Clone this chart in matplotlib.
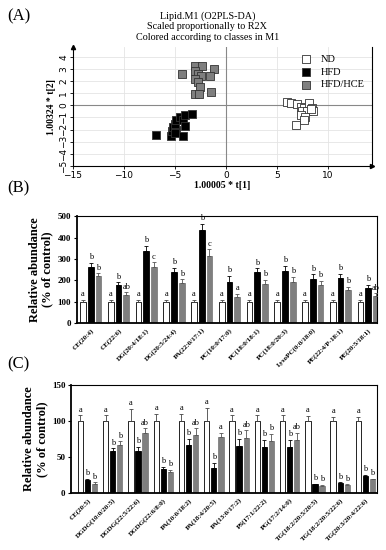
import matplotlib
matplotlib.use('Agg')
import matplotlib.pyplot as plt
import numpy as np

plt.rcParams['font.family'] = 'Liberation Serif'

# ---- panel A scores ----
nd_x = [6.0, 6.4, 6.9, 7.3, 7.6, 8.1, 8.4, 7.4, 7.9, 8.5, 7.3, 7.7, 7.6, 6.8, 8.3]
nd_y = [0.3, 0.2, 0.1, -0.1, -0.2, 0.2, -0.2, -0.5, -0.5, -0.5, -0.8, -1.0, -1.2, -1.6, -0.3]
hfd_x = [-6.9, -5.4, -5.3, -5.2, -4.9, -5.0, -4.9, -4.5, -4.2, -4.0, -3.3, -4.0, -4.2, -5.0]
hfd_y = [-2.4, -2.5, -2.1, -1.8, -2.0, -1.5, -1.2, -1.0, -1.2, -0.8, -0.7, -1.7, -2.5, -2.3]
hce_x = [-4.3, -3.0, -2.4, -1.2, -3.0, -2.8, -2.5, -1.6, -3.0, -2.8, -2.6, -1.5, -3.0, -2.7]
hce_y = [2.6, 3.2, 3.2, 3.0, 2.8, 2.6, 2.4, 2.4, 2.2, 1.9, 1.5, 1.1, 0.9, 0.9]

# ---- panel B ----
b_labels = ['CE(20:4)', 'CE(22:6)', 'DG(20:4/18:1)', 'DG(20:5/24:4)', 'PA(22:0/17:1)',
            'PC(10:0/17:0)', 'PC(18:0/18:1)', 'PC(18:0/20:3)', 'LysoPC(0:0/18:0)',
            'PE(22:4/P-18:1)', 'PE(20:5/18:1)']
b_nd = [100] * 11
b_nd_err = [8, 8, 8, 8, 8, 10, 8, 8, 8, 8, 8]
b_hfd = [263, 178, 337, 238, 435, 190, 238, 243, 207, 212, 165]
b_hfd_err = [20, 12, 25, 20, 28, 30, 18, 25, 20, 18, 15]
b_hce = [218, 133, 262, 185, 315, 120, 183, 190, 178, 155, 127]
b_hce_err = [15, 10, 22, 20, 30, 18, 18, 25, 20, 15, 12]
b_let_hce = ['b', 'ab', 'c', 'b', 'c', 'a', 'b', 'b', 'b', 'b', 'ab']

# ---- panel C ----
c_labels = ['CE(20:5)', 'DGDG(10:0/20:5)', 'DGDG(22:5/22:6)', 'DGDG(22:6/8:0)', 'PA(10:0/18:2)',
            'PA(18:4/20:5)', 'PA(13:0/17:2)', 'PS(17:1/22:2)', 'PG(17:2/14:0)',
            'TG(18:2/20:5/20:5)', 'TG(18:2/20:5/22:6)', 'TG(20:3/20:4/22:6)']
c_nd = [100] * 12
c_nd_err = [8, 8, 17, 10, 10, 18, 8, 8, 8, 7, 6, 6]
c_hfd = [18, 58, 59, 34, 67, 35, 65, 64, 64, 12, 14, 24]
c_hfd_err = [2, 4, 5, 2, 8, 7, 10, 10, 10, 1, 1, 1.5]
c_hce = [13, 66, 84, 29, 80, 78, 77, 72, 74, 10, 11, 19]
c_hce_err = [2, 6, 6, 3, 10, 6, 10, 10, 10, 1, 1, 1]
c_let_hce = ['b', 'b', 'ab', 'b', 'ab', 'a', 'ab', 'b', 'ab', 'b', 'b', 'b']

GRAY = '#7f7f7f'

fig = plt.figure(figsize=(3.86, 5.5), dpi=100)

# ---------------- (A) ----------------
axA = fig.add_axes([0.189, 0.698, 0.775, 0.2165])
axA.grid(True, color='#e4e4e4', lw=0.6)
axA.set_axisbelow(True)
axA.axhline(0, color='#888888', lw=0.8, zorder=1)
axA.axvline(0, color='#888888', lw=0.8, zorder=1)
kw = dict(marker='s', s=26, linewidths=0.6, edgecolors='#333333', zorder=3)
axA.scatter(nd_x, nd_y, facecolors='white', label='ND', **kw)
axA.scatter(hfd_x, hfd_y, facecolors='black', label='HFD', **kw)
axA.scatter(hce_x, hce_y, facecolors=GRAY, label='HFD/HCE', **kw)
axA.set_xlim(-15, 14.3)
axA.set_ylim(-5, 4.8)
axA.set_xticks([-15, -10, -5, 0, 5, 10])
axA.set_yticks(range(-5, 5))
for lab in axA.get_xticklabels() + axA.get_yticklabels():
    lab.set_family('DejaVu Sans')
    lab.set_fontsize(6.5)
for lab in axA.get_yticklabels():
    lab.set_rotation(90)
    lab.set_va('center')
axA.tick_params(length=2, width=0.6, pad=1.5)
axA.spines['top'].set_visible(False)
for s in ['left', 'bottom', 'right']:
    axA.spines[s].set_linewidth(0.8)
axA.set_xlabel('1.00005 * t[1]', fontsize=7, fontweight='bold', labelpad=1)
axA.set_ylabel('1.00324 * t[2]', fontsize=7, fontweight='bold', labelpad=2)
axA.legend(loc='upper right', frameon=False, fontsize=7.5, handletextpad=0.4,
           labelspacing=0.35, borderaxespad=0.3, markerscale=1.2)
axA.plot(1, 0, '>k', ms=3, transform=axA.transAxes, clip_on=False)
axA.plot(0, 1, '^k', ms=3, transform=axA.transAxes, clip_on=False)
fig.text(0.537, 0.98, 'Lipid.M1 (O2PLS-DA)\nScaled proportionally to R2X\nColored according to classes in M1',
         ha='center', va='top', fontsize=7.3, linespacing=1.25)
fig.text(0.018, 0.985, '(A)', fontsize=12, va='top')


def bar_panel(ax, labels, nd, nd_err, hfd, hfd_err, hce, hce_err, let_hce, ymax, step, xlim):
    x = np.arange(len(labels))
    off, w = 0.28, 0.21
    ax.bar(x - off, nd, w, color='white', edgecolor='black', lw=0.6, zorder=2)
    ax.bar(x, hfd, w, color='black', edgecolor='black', lw=0.6, zorder=2)
    ax.bar(x + off, hce, w, color=GRAY, edgecolor=GRAY, lw=0.6, zorder=2)
    for xs, v, e, c in [(x - off, nd, nd_err, '#444444'), (x, hfd, hfd_err, 'black'),
                        (x + off, hce, hce_err, '#555555')]:
        ax.errorbar(xs, v, yerr=[np.zeros(len(v)), e], fmt='none', ecolor=c,
                    elinewidth=0.6, capsize=1.3, capthick=0.6, zorder=3)
    pad = ymax * 0.015
    for i in range(len(labels)):
        ax.text(x[i] - off, nd[i] + nd_err[i] + pad, 'a', ha='center', va='bottom', fontsize=6)
        ax.text(x[i], hfd[i] + hfd_err[i] + pad, 'b', ha='center', va='bottom', fontsize=6)
        ax.text(x[i] + off, hce[i] + hce_err[i] + pad, let_hce[i], ha='center', va='bottom', fontsize=6)
    ax.set_xlim(*xlim)
    ax.set_ylim(0, ymax)
    ax.set_yticks(np.arange(0, ymax + 1, step))
    ax.set_xticks(x)
    ax.set_xticklabels(labels, rotation=45, ha='right', rotation_mode='anchor',
                       fontsize=5, fontweight='bold')
    for lab in ax.get_yticklabels():
        lab.set_fontweight('bold')
        lab.set_fontsize(6.5)
    ax.tick_params(axis='x', length=0, pad=3)
    ax.tick_params(axis='y', length=2.5, width=0.8, pad=1.5)
    for s in ['left', 'bottom']:
        ax.spines[s].set_linewidth(1.3)
    for s in ['top', 'right']:
        ax.spines[s].set_linewidth(0.8)
    ax.set_ylabel('Relative abundance\n(% of control)', fontsize=9, fontweight='bold',
                  linespacing=1.1, labelpad=3)


# ---------------- (B) ----------------
axB = fig.add_axes([0.199, 0.4127, 0.778, 0.1943])
bar_panel(axB, b_labels, b_nd, b_nd_err, b_hfd, b_hfd_err, b_hce, b_hce_err, b_let_hce,
          500, 100, (-0.5, 10.32))
fig.text(0.018, 0.672, '(B)', fontsize=12, va='top')

# ---------------- (C) ----------------
axC = fig.add_axes([0.184, 0.1036, 0.793, 0.1964])
bar_panel(axC, c_labels, c_nd, c_nd_err, c_hfd, c_hfd_err, c_hce, c_hce_err, c_let_hce,
          150, 50, (-0.65, 11.46))
fig.text(0.018, 0.352, '(C)', fontsize=12, va='top')

fig.savefig('out.png', dpi=100)
